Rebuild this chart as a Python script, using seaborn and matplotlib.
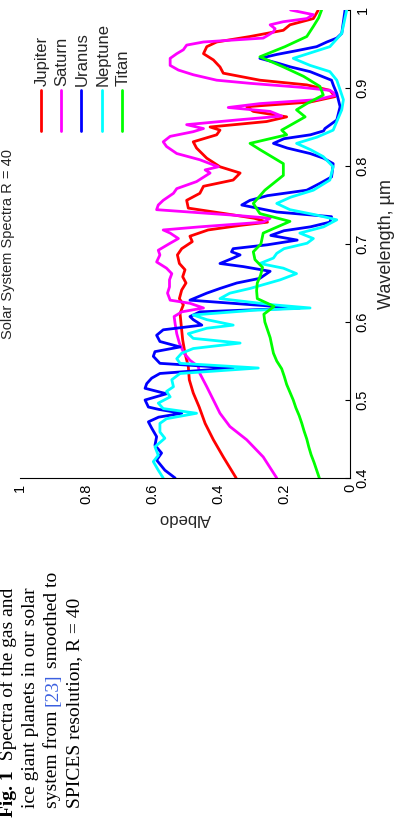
import numpy as np
import pandas as pd
import matplotlib
matplotlib.use("Agg")
import matplotlib.pyplot as plt
import seaborn as sns
from matplotlib.font_manager import FontProperties

# spectra (wavelength in um, albedo)
jupiter_wl = [0.400, 0.427, 0.449, 0.470, 0.491, 0.509, 0.526, 0.543, 0.560, 0.577, 0.598, 0.611,
              0.622, 0.630, 0.641, 0.650, 0.658, 0.667, 0.675, 0.686, 0.694, 0.703, 0.710, 0.718,
              0.724, 0.728, 0.733, 0.739, 0.746, 0.756, 0.765, 0.774, 0.782, 0.791, 0.799, 0.810,
              0.823, 0.831, 0.840, 0.846, 0.850, 0.857, 0.863, 0.870, 0.876, 0.882, 0.889, 0.897,
              0.904, 0.910, 0.919, 0.927, 0.936, 0.944, 0.953, 0.959, 0.966, 0.974, 0.981, 0.989, 1.000]
jupiter_al = [0.345, 0.384, 0.414, 0.439, 0.457, 0.475, 0.487, 0.490, 0.500, 0.507, 0.512, 0.515,
              0.505, 0.517, 0.510, 0.497, 0.507, 0.500, 0.517, 0.523, 0.510, 0.478, 0.485, 0.430,
              0.330, 0.250, 0.290, 0.380, 0.490, 0.495, 0.455, 0.444, 0.354, 0.333, 0.394, 0.434,
              0.465, 0.475, 0.404, 0.394, 0.424, 0.253, 0.192, 0.293, 0.313, 0.121, 0.045, 0.061,
              0.131, 0.273, 0.384, 0.394, 0.414, 0.444, 0.434, 0.404, 0.303, 0.202, 0.182, 0.111, 0.096]

saturn_wl = [0.400, 0.427, 0.449, 0.466, 0.483, 0.500, 0.517, 0.534, 0.543, 0.551, 0.560, 0.573,
             0.585, 0.598, 0.607, 0.613, 0.618, 0.624, 0.628, 0.637, 0.645, 0.654, 0.662, 0.669,
             0.677, 0.686, 0.692, 0.701, 0.707, 0.714, 0.718, 0.722, 0.728, 0.733, 0.737, 0.744,
             0.750, 0.756, 0.765, 0.771, 0.780, 0.791, 0.795, 0.799, 0.808, 0.816, 0.825, 0.831,
             0.838, 0.844, 0.848, 0.853, 0.859, 0.864, 0.870, 0.875, 0.880, 0.885, 0.891, 0.897,
             0.901, 0.906, 0.910, 0.917, 0.923, 0.929, 0.938, 0.944, 0.949, 0.955, 0.959, 0.964,
             0.968, 0.972, 0.976, 0.981, 0.985, 0.989, 0.994, 1.000]
saturn_al = [0.222, 0.263, 0.313, 0.364, 0.394, 0.414, 0.434, 0.455, 0.460, 0.485, 0.503, 0.517,
             0.525, 0.530, 0.533, 0.510, 0.444, 0.485, 0.545, 0.553, 0.547, 0.547, 0.540, 0.556,
             0.586, 0.576, 0.581, 0.545, 0.520, 0.545, 0.566, 0.455, 0.263, 0.242, 0.354, 0.586,
             0.581, 0.566, 0.535, 0.525, 0.465, 0.424, 0.439, 0.399, 0.455, 0.525, 0.556, 0.566,
             0.545, 0.475, 0.444, 0.495, 0.343, 0.207, 0.242, 0.369, 0.273, 0.101, 0.040, 0.061,
             0.152, 0.303, 0.404, 0.475, 0.520, 0.545, 0.545, 0.525, 0.505, 0.495, 0.444, 0.263,
             0.247, 0.232, 0.227, 0.242, 0.202, 0.131, 0.111, 0.180]

uranus_wl = [0.400, 0.410, 0.423, 0.432, 0.442, 0.453, 0.464, 0.472, 0.478, 0.483, 0.488, 0.491,
             0.500, 0.508, 0.515, 0.521, 0.528, 0.534, 0.541, 0.547, 0.556, 0.562, 0.568, 0.575,
             0.583, 0.590, 0.596, 0.603, 0.607, 0.613, 0.618, 0.622, 0.628, 0.637, 0.643, 0.650,
             0.656, 0.665, 0.671, 0.675, 0.682, 0.686, 0.690, 0.694, 0.699, 0.705, 0.711, 0.717,
             0.722, 0.728, 0.735, 0.741, 0.750, 0.756, 0.762, 0.769, 0.778, 0.786, 0.795, 0.803,
             0.810, 0.816, 0.823, 0.829, 0.835, 0.840, 0.845, 0.848, 0.859, 0.876, 0.893, 0.903,
             0.910, 0.921, 0.927, 0.932, 0.938, 0.943, 0.948, 0.953, 0.959, 0.964, 0.970, 0.985, 1.000]
uranus_al = [0.530, 0.561, 0.586, 0.571, 0.591, 0.586, 0.601, 0.611, 0.580, 0.510, 0.580, 0.611,
             0.621, 0.556, 0.621, 0.616, 0.601, 0.576, 0.354, 0.576, 0.596, 0.591, 0.515, 0.576,
             0.586, 0.566, 0.449, 0.475, 0.485, 0.455, 0.152, 0.293, 0.485, 0.434, 0.394, 0.343,
             0.273, 0.242, 0.323, 0.394, 0.354, 0.333, 0.359, 0.354, 0.250, 0.160, 0.240, 0.200,
             0.120, 0.061, 0.056, 0.222, 0.328, 0.303, 0.250, 0.131, 0.090, 0.056, 0.053, 0.051,
             0.080, 0.121, 0.190, 0.232, 0.200, 0.120, 0.080, 0.076, 0.040, 0.030, 0.040, 0.050,
             0.056, 0.121, 0.180, 0.220, 0.273, 0.222, 0.160, 0.101, 0.070, 0.040, 0.025, 0.020, 0.015]

neptune_wl = [0.400, 0.410, 0.421, 0.429, 0.440, 0.451, 0.459, 0.470, 0.476, 0.483, 0.489, 0.496,
              0.504, 0.511, 0.517, 0.526, 0.534, 0.541, 0.547, 0.553, 0.560, 0.566, 0.573, 0.579,
              0.585, 0.592, 0.596, 0.603, 0.609, 0.615, 0.618, 0.622, 0.630, 0.637, 0.643, 0.654,
              0.662, 0.669, 0.675, 0.682, 0.688, 0.694, 0.701, 0.707, 0.714, 0.722, 0.731, 0.737,
              0.744, 0.752, 0.760, 0.769, 0.782, 0.799, 0.812, 0.821, 0.829, 0.837, 0.846, 0.872,
              0.885, 0.910, 0.921, 0.929, 0.938, 0.945, 0.953, 0.970, 1.000]
neptune_al = [0.566, 0.581, 0.596, 0.581, 0.591, 0.561, 0.576, 0.576, 0.556, 0.465, 0.566, 0.581,
              0.545, 0.556, 0.535, 0.540, 0.515, 0.278, 0.515, 0.525, 0.510, 0.475, 0.333, 0.475,
              0.490, 0.434, 0.354, 0.434, 0.475, 0.293, 0.121, 0.232, 0.394, 0.364, 0.303, 0.212,
              0.162, 0.202, 0.273, 0.232, 0.222, 0.200, 0.130, 0.111, 0.152, 0.080, 0.040, 0.100,
              0.182, 0.222, 0.180, 0.111, 0.061, 0.051, 0.081, 0.120, 0.162, 0.100, 0.051, 0.025,
              0.020, 0.040, 0.061, 0.121, 0.172, 0.120, 0.061, 0.025, 0.010]

titan_wl = [0.40, 0.41, 0.42, 0.43, 0.44, 0.45, 0.46, 0.47, 0.48, 0.49, 0.50, 0.51, 0.52, 0.53,
            0.54, 0.55, 0.56, 0.57, 0.58, 0.59, 0.60, 0.61, 0.62, 0.63, 0.64, 0.65, 0.66, 0.67,
            0.68, 0.69, 0.70, 0.714, 0.729, 0.739, 0.752, 0.769, 0.788, 0.803, 0.821, 0.829,
            0.840, 0.846, 0.863, 0.872, 0.880, 0.891, 0.902, 0.915, 0.927, 0.940, 0.953, 0.966,
            0.979, 0.990, 1.000]
titan_al = [0.093, 0.101, 0.109, 0.118, 0.125, 0.131, 0.139, 0.146, 0.154, 0.164, 0.172, 0.182,
            0.192, 0.199, 0.207, 0.222, 0.232, 0.237, 0.242, 0.250, 0.258, 0.261, 0.230, 0.281,
            0.283, 0.281, 0.271, 0.265, 0.288, 0.293, 0.270, 0.263, 0.182, 0.273, 0.293, 0.258,
            0.202, 0.202, 0.273, 0.303, 0.192, 0.207, 0.136, 0.162, 0.131, 0.081, 0.091, 0.141,
            0.202, 0.273, 0.197, 0.131, 0.111, 0.095, 0.086]

planets = ["Jupiter", "Saturn", "Uranus", "Neptune", "Titan"]
colors = ["#ff0000", "#ff00ff", "#0000ff", "#00ffff", "#00ff00"]
series = [(jupiter_wl, jupiter_al), (saturn_wl, saturn_al), (uranus_wl, uranus_al),
          (neptune_wl, neptune_al), (titan_wl, titan_al)]

df = pd.concat([pd.DataFrame({"wavelength": w, "albedo": a, "planet": p})
                for p, (w, a) in zip(planets, series)], ignore_index=True)

albedo_ticks = [0, 0.2, 0.4, 0.6, 0.8, 1]
albedo_labels = ["0", "0.2", "0.4", "0.6", "0.8", "1"]
wl_ticks = [0.4, 0.5, 0.6, 0.7, 0.8, 0.9, 1.0]
wl_labels = ["0.4", "0.5", "0.6", "0.7", "0.8", "0.9", "1"]

sns.set_style("white")
plt.rcParams["font.family"] = ["Liberation Sans", "DejaVu Sans"]

W, H = 395, 819
fig = plt.figure(figsize=(W / 100, H / 100), dpi=100)
# the whole chart is turned a quarter turn: albedo runs right->left, wavelength bottom->top
ax = fig.add_axes([20 / W, 1 - 478 / H, 330 / W, 468 / H])
sns.lineplot(data=df, x="albedo", y="wavelength", hue="planet", hue_order=planets,
             palette=dict(zip(planets, colors)), orient="y", estimator=None,
             legend=False, lw=2.0, solid_joinstyle="round", ax=ax)
ax.set_xlim(1, 0)
ax.set_ylim(0.4, 1.0)
ax.yaxis.tick_right()
ax.yaxis.set_label_position("right")
for s in ["top", "left"]:
    ax.spines[s].set_visible(False)
for s in ["bottom", "right"]:
    ax.spines[s].set_color("black")
    ax.spines[s].set_linewidth(0.8)
ax.set_xticks(albedo_ticks, albedo_labels)
ax.set_yticks(wl_ticks, wl_labels)
ax.tick_params(direction="in", length=3.5, width=0.8, labelsize=10.5, pad=4, colors="black")
ax.tick_params(axis="x", labelrotation=90)
ax.tick_params(axis="y", labelrotation=90)
for lab in ax.get_yticklabels():
    lab.set_va("center")
ax.set_xlabel("Albedo", rotation=180, fontsize=12, labelpad=5)
ax.set_ylabel("Wavelength, µm", rotation=90, fontsize=13, labelpad=6)

fig.text(8 / W, 1 - 244 / H, "Solar System Spectra R = 40", rotation=90,
         ha="center", va="center", fontsize=10.5)

# legend, drawn turned like the rest
leg_x = [41, 61, 81, 102, 122]
for p, c, x in zip(planets, colors, leg_x):
    fig.add_artist(plt.Line2D([x / W, x / W], [1 - 90 / H, 1 - 131 / H], color=c, lw=2.0))
    fig.text((x + 1) / W, 1 - 86 / H, p, rotation=90, ha="center", va="bottom", fontsize=12)

# caption
fig.canvas.draw()
renderer = fig.canvas.get_renderer()


def advance(s, prop):
    w1 = renderer.get_text_width_height_descent(s + "x", prop, ismath=False)[0]
    w2 = renderer.get_text_width_height_descent("x", prop, ismath=False)[0]
    return w1 - w2


cap_size = 14
normal = FontProperties(family="Liberation Serif", size=cap_size)
bold = FontProperties(family="Liberation Serif", size=cap_size, weight="bold")
caption = [
    [("Fig. 1", bold, "black"), ("  Spectra of the gas and", normal, "black")],
    [("ice giant planets in our solar", normal, "black")],
    [("system from ", normal, "black"), ("[23]", normal, "#3a5fe0"), (" smoothed to", normal, "black")],
    [("SPICES resolution, R = 40", normal, "black")],
]
base_x = [13, 35, 57, 79]
start_y = [817, 808, 808, 808]
for runs, bx, sy in zip(caption, base_x, start_y):
    y = H - sy
    for s, prop, c in runs:
        fig.text(bx / W, y / H, s, rotation=90, rotation_mode="anchor", ha="left",
                 va="baseline", fontproperties=prop, color=c)
        y += advance(s, prop)

fig.savefig("out.png", dpi=100)
